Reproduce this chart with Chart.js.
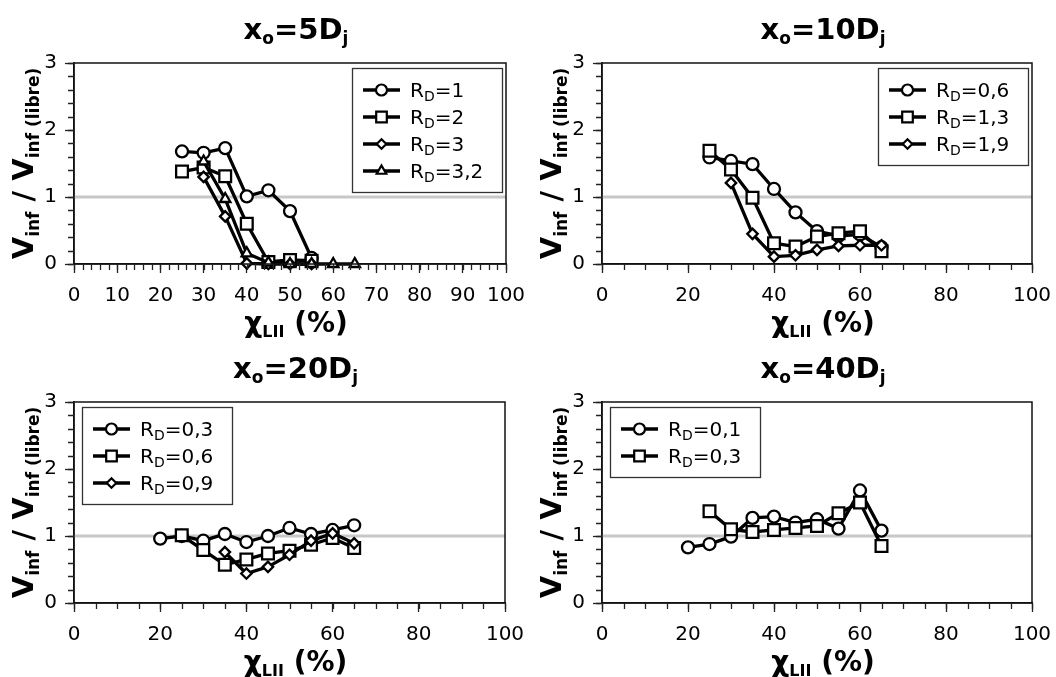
<!DOCTYPE html>
<html><head><meta charset="utf-8">
<script src="https://cdn.jsdelivr.net/npm/chart.js@4/dist/chart.umd.min.js"></script>
<style>
html,body{margin:0;padding:0;background:#fff;}
#wrap{position:relative;width:1056px;height:677px;overflow:hidden;background:#fff;}
canvas{position:absolute;}
</style></head>
<body><div id="wrap">
<canvas id="c1" width="528" height="338" style="left:0;top:0"></canvas>
<canvas id="c2" width="528" height="338" style="left:528px;top:0"></canvas>
<canvas id="c3" width="528" height="339" style="left:0;top:338px"></canvas>
<canvas id="c4" width="528" height="339" style="left:528px;top:338px"></canvas>
</div>
<script>
// ---------- DATA ----------
// Panel 1: x_o = 5D_j
const p1_rd1_x  = [25, 30, 35, 40, 45, 50, 55];
const p1_rd1_y  = [1.68, 1.66, 1.73, 1.01, 1.10, 0.79, 0.09];
const p1_rd2_x  = [25, 30, 35, 40, 45, 50, 55];
const p1_rd2_y  = [1.38, 1.44, 1.31, 0.60, 0.03, 0.06, 0.05];
const p1_rd3_x  = [30, 35, 40, 45, 50, 55];
const p1_rd3_y  = [1.30, 0.71, 0.01, 0.00, 0.00, 0.00];
const p1_rd32_x = [30, 35, 40, 45, 50, 55, 60, 65];
const p1_rd32_y = [1.53, 0.97, 0.16, 0.02, 0.00, 0.00, 0.00, 0.00];
// Panel 2: x_o = 10D_j
const p2_rd06_x = [25, 30, 35, 40, 45, 50, 55, 60, 65];
const p2_rd06_y = [1.59, 1.54, 1.49, 1.12, 0.77, 0.49, 0.42, 0.44, 0.25];
const p2_rd13_x = [25, 30, 35, 40, 45, 50, 55, 60, 65];
const p2_rd13_y = [1.69, 1.41, 0.99, 0.31, 0.26, 0.41, 0.46, 0.49, 0.19];
const p2_rd19_x = [30, 35, 40, 45, 50, 55, 60, 65];
const p2_rd19_y = [1.21, 0.45, 0.11, 0.13, 0.21, 0.27, 0.28, 0.28];
// Panel 3: x_o = 20D_j
const p3_rd03_x = [20, 25, 30, 35, 40, 45, 50, 55, 60, 65];
const p3_rd03_y = [0.96, 1.00, 0.93, 1.03, 0.91, 1.00, 1.12, 1.03, 1.09, 1.16];
const p3_rd06_x = [25, 30, 35, 40, 45, 50, 55, 60, 65];
const p3_rd06_y = [1.01, 0.79, 0.57, 0.65, 0.74, 0.78, 0.87, 0.97, 0.82];
const p3_rd09_x = [35, 40, 45, 50, 55, 60, 65];
const p3_rd09_y = [0.76, 0.44, 0.54, 0.72, 0.93, 1.04, 0.89];
// Panel 4: x_o = 40D_j
const p4_rd01_x = [20, 25, 30, 35, 40, 45, 50, 55, 60, 65];
const p4_rd01_y = [0.83, 0.88, 0.99, 1.27, 1.29, 1.20, 1.25, 1.11, 1.68, 1.08];
const p4_rd03_x = [25, 30, 35, 40, 45, 50, 55, 60, 65];
const p4_rd03_y = [1.37, 1.10, 1.06, 1.09, 1.12, 1.15, 1.34, 1.50, 0.85];

// Tick values
const xTicksFine   = [0, 10, 20, 30, 40, 50, 60, 70, 80, 90, 100];
const xTicksCoarse = [0, 20, 40, 60, 80, 100];
const yTicks       = [0, 1, 2, 3];
const refLevel     = 1;

// Titles (main, subscript pairs)
const titles = [
  [['x',0],['o',1],['=5D',0],['j',1]],
  [['x',0],['o',1],['=10D',0],['j',1]],
  [['x',0],['o',1],['=20D',0],['j',1]],
  [['x',0],['o',1],['=40D',0],['j',1]]
];

// ---------- RENDERING ----------
const FF = "'DejaVu Sans', sans-serif";
const RADIUS = {circle: 6, rect: 8.3, rectRot: 5.2, triangle: 6};
const LRADIUS = {circle: 5.5, rect: 7.5, rectRot: 4.8, triangle: 5.5};

function zip(xs, ys){ return xs.map((x,i)=>({x:x, y:ys[i]})); }

function ds(label, xs, ys, style, idx){
  return {
    label: label, data: zip(xs, ys),
    borderColor:'#000', borderWidth:3.3, fill:false, tension:0,
    pointStyle: style, pointRadius: RADIUS[style], pointHoverRadius: RADIUS[style],
    pointBackgroundColor:'#fff', pointBorderColor:'#000', pointBorderWidth:2.3,
    clip:false, order:-idx
  };
}

function drawRich(ctx, parts, x, y, mainSize, subSize, subDy, align, bold){
  const w = bold ? 'bold ' : '';
  let total = 0;
  const ws = parts.map(p=>{ ctx.font = w + (p[1]?subSize:mainSize) + 'px ' + FF; const m = ctx.measureText(p[0]).width; total += m; return m; });
  let cx = align === 'center' ? x - total/2 : x;
  ctx.textAlign = 'left'; ctx.textBaseline = 'alphabetic';
  parts.forEach((p,i)=>{
    ctx.font = w + (p[1]?subSize:mainSize) + 'px ' + FF;
    ctx.fillText(p[0], cx, y + (p[1]?subDy:0));
    cx += ws[i];
  });
}

function parseLabel(s){
  const i = s.indexOf('_');
  return [[s.slice(0,i),0],[s.charAt(i+1),1],[s.slice(i+2),0]];
}

const decor = {
  id:'decor',
  beforeDatasetsDraw(chart){
    const {ctx, chartArea:a, scales} = chart;
    const yp = scales.y.getPixelForValue(refLevel);
    ctx.save();
    ctx.strokeStyle = '#c8c8c8'; ctx.lineWidth = 3;
    ctx.beginPath(); ctx.moveTo(a.left, yp); ctx.lineTo(a.right, yp); ctx.stroke();
    ctx.restore();
  },
  afterDraw(chart){
    const o = chart.options.plugins.decor;
    const {ctx, chartArea:a, scales} = chart;
    ctx.save();
    ctx.strokeStyle = '#111'; ctx.lineWidth = 1.5;
    ctx.strokeRect(a.left, a.top, a.right - a.left, a.bottom - a.top);
    ctx.strokeStyle = '#222'; ctx.lineWidth = 1.3;
    ctx.beginPath();
    for (let v = 0; v <= 100 + 1e-9; v += o.xMinor){
      const px = Math.round(scales.x.getPixelForValue(v)) + 0.5;
      ctx.moveTo(px, a.bottom); ctx.lineTo(px, a.bottom + 6);
    }
    for (let v = 0; v <= 3 + 1e-9; v += 0.2){
      const py = Math.round(scales.y.getPixelForValue(v)) + 0.5;
      ctx.moveTo(a.left, py); ctx.lineTo(a.left - 6, py);
    }
    ctx.stroke();
    ctx.fillStyle = '#000';
    drawRich(ctx, o.title, (a.left + a.right)/2 + 6, a.top - 24, 29, 17, 5, 'center', true);
    drawRich(ctx, [['χ',0],['LII',1],[' (%)',0]], (a.left + a.right)/2 + 6, a.bottom + 68, 28, 16, 5, 'center', true);
    ctx.save();
    ctx.translate(33, (a.top + a.bottom)/2);
    ctx.rotate(-Math.PI/2);
    drawRich(ctx, [['V',0],['inf',1],[' / ',0],['V',0],['inf (libre)',1]], 0, 0, 29, 17, 6, 'center', true);
    ctx.restore();
    // legend
    const n = chart.data.datasets.length;
    const bw = 150, bh = 22 + (n-1)*27 + 21;
    const bx = o.legendPos === 'tr' ? a.right - 4 - bw : a.left + 8;
    const by = a.top + 5;
    ctx.fillStyle = '#fff'; ctx.fillRect(bx, by, bw, bh);
    ctx.strokeStyle = '#333'; ctx.lineWidth = 1.3; ctx.strokeRect(bx + 0.5, by + 0.5, bw, bh);
    chart.data.datasets.forEach((d, i)=>{
      const ry = by + 22 + i*27;
      ctx.strokeStyle = '#000'; ctx.lineWidth = 3.3;
      ctx.beginPath(); ctx.moveTo(bx + 11, ry); ctx.lineTo(bx + 48, ry); ctx.stroke();
      ctx.fillStyle = '#fff'; ctx.strokeStyle = '#000'; ctx.lineWidth = 2.2;
      Chart.helpers.drawPoint(ctx, {pointStyle: d.pointStyle, rotation: 0, radius: LRADIUS[d.pointStyle], borderWidth: 2.2}, bx + 29.5, ry);
      ctx.fillStyle = '#000';
      drawRich(ctx, parseLabel(d.label), bx + 58, ry + 7, 20, 14, 4, 'left', false);
    });
    ctx.restore();
  }
};

function makeChart(id, datasets, xTicks, xMinor, title, legendPos, padTop, padRight){
  const tickFont = {family: FF, size: 20};
  new Chart(document.getElementById(id), {
    type: 'line',
    data: {datasets: datasets},
    plugins: [decor],
    options: {
      responsive: false, animation: false, devicePixelRatio: 1,
      layout: {padding: {top: padTop, right: padRight, left: 0, bottom: 0}},
      plugins: {legend: {display:false}, tooltip: {enabled:false}, title:{display:false},
        decor: {xMinor: xMinor, title: title, legendPos: legendPos}},
      events: [],
      scales: {
        x: {type:'linear', min:0, max:100,
          afterBuildTicks: s => { s.ticks = xTicks.map(v=>({value:v})); },
          ticks: {font: tickFont, color:'#000', padding: 11, maxRotation:0, autoSkip:false,
                  callback: v => String(v)},
          grid: {drawOnChartArea:false, drawTicks:true, tickLength:9, tickColor:'#222', tickWidth:1.3},
          border: {display:true, color:'#111', width:1.5},
          afterFit: s => { s.height = 74; s.paddingLeft = 0; s.paddingRight = 0; }
        },
        y: {type:'linear', min:0, max:3,
          afterBuildTicks: s => { s.ticks = yTicks.map(v=>({value:v})); },
          ticks: {font: tickFont, color:'#000', padding: 8, callback: v => String(v)},
          grid: {drawOnChartArea:false, drawTicks:true, tickLength:9, tickColor:'#222', tickWidth:1.3},
          border: {display:true, color:'#111', width:1.5},
          afterFit: s => { s.width = 74; s.paddingTop = 0; s.paddingBottom = 0; }
        }
      }
    }
  });
}

makeChart('c1', [
  ds('R_D=1',   p1_rd1_x,  p1_rd1_y,  'circle',   0),
  ds('R_D=2',   p1_rd2_x,  p1_rd2_y,  'rect',     1),
  ds('R_D=3',   p1_rd3_x,  p1_rd3_y,  'rectRot',  2),
  ds('R_D=3,2', p1_rd32_x, p1_rd32_y, 'triangle', 3)
], xTicksFine, 2, titles[0], 'tr', 63, 22);

makeChart('c2', [
  ds('R_D=0,6', p2_rd06_x, p2_rd06_y, 'circle',  0),
  ds('R_D=1,3', p2_rd13_x, p2_rd13_y, 'rect',    1),
  ds('R_D=1,9', p2_rd19_x, p2_rd19_y, 'rectRot', 2)
], xTicksCoarse, 5, titles[1], 'tr', 63, 24);

makeChart('c3', [
  ds('R_D=0,3', p3_rd03_x, p3_rd03_y, 'circle',  0),
  ds('R_D=0,6', p3_rd06_x, p3_rd06_y, 'rect',    1),
  ds('R_D=0,9', p3_rd09_x, p3_rd09_y, 'rectRot', 2)
], xTicksCoarse, 5, titles[2], 'tl', 64, 23);

makeChart('c4', [
  ds('R_D=0,1', p4_rd01_x, p4_rd01_y, 'circle', 0),
  ds('R_D=0,3', p4_rd03_x, p4_rd03_y, 'rect',   1)
], xTicksCoarse, 5, titles[3], 'tl', 64, 24);
</script>
</body></html>
